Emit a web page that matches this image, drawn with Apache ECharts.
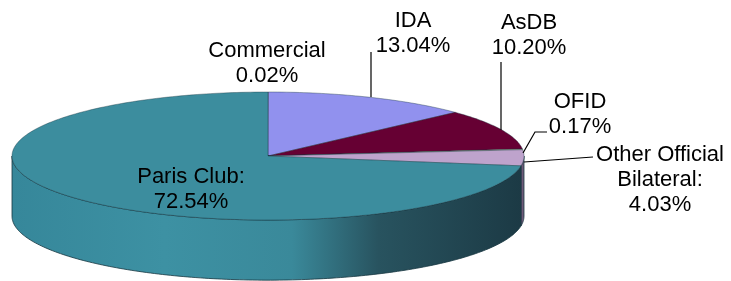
<!DOCTYPE html>
<html>
<head>
<meta charset="utf-8">
<script src="https://cdn.jsdelivr.net/npm/echarts@6/dist/echarts.min.js"></script>
<style>
html, body { margin: 0; padding: 0; background: #fff; }
#main { width: 731px; height: 281px; }
</style>
</head>
<body>
<div id="main"></div>
<script>
// shares of external debt by creditor (%), clockwise from 12 o'clock
var categories = ['Commercial', 'IDA', 'AsDB', 'OFID', 'Other Official Bilateral', 'Paris Club'];
var shares = [0.02, 13.04, 10.20, 0.17, 4.03, 72.54];
var labelText = ['Commercial\n0.02%', 'IDA\n13.04%', 'AsDB\n10.20%', 'OFID\n0.17%',
    'Other Official\nBilateral:\n4.03%', 'Paris Club:\n72.54%'];

var topColors = ['#7e7ed6', '#9191ee', '#660033', '#f2f2c0', '#bea3cc', '#3c8d9e'];
var sideColors = ['#50508a', '#5c5c9a', '#3d001e', '#a0a080', '#6e5a78', null];
var depth = 0.94; // wall height, in units of the vertical radius

var total = shares.reduce(function (a, b) { return a + b; }, 0);
var cum = [];
var run = 0;
shares.forEach(function (v) { cum.push(run); run += v; });

function angles(i) {
    var a0 = 90 - 360 * cum[i] / total;
    var a1 = 90 - 360 * (cum[i] + shares[i]) / total;
    return [a0, a1];
}

var rad = Math.PI / 180;

function arcPts(api, from, to, dz) {
    var pts = [];
    var n = Math.max(2, Math.ceil(Math.abs(from - to)));
    for (var k = 0; k <= n; k++) {
        var a = (from + (to - from) * k / n) * rad;
        pts.push(api.coord([Math.cos(a), Math.sin(a) - dz]));
    }
    return pts;
}

var sideGrad = new echarts.graphic.LinearGradient(0, 0, 1, 0, [
    { offset: 0, color: '#36879a' },
    { offset: 0.3, color: '#3d91a3' },
    { offset: 0.55, color: '#3a899a' },
    { offset: 0.72, color: '#28535f' },
    { offset: 1, color: '#1c3a45' }
]);

function renderSide(params, api) {
    var i = params.dataIndex;
    var a = angles(i);
    var hi = Math.min(a[0], 0), lo = Math.max(a[1], -180);
    if (hi <= lo) return null;
    var top = arcPts(api, hi, lo, 0);
    var bot = arcPts(api, lo, hi, depth);
    return {
        type: 'polygon',
        shape: { points: top.concat(bot) },
        style: { fill: sideColors[i] || sideGrad, stroke: '#173640', lineWidth: 0.8 }
    };
}

function renderTop(params, api) {
    var i = params.dataIndex;
    var a = angles(i);
    var pts = [api.coord([0, 0])].concat(arcPts(api, a[0], a[1], 0));
    return {
        type: 'polygon',
        shape: { points: pts },
        style: { fill: topColors[i], stroke: 'rgba(20,50,60,0.55)', lineWidth: 0.7 }
    };
}

var data = shares.map(function (v, i) { return [i, v]; });

// label blocks and leader lines (pixel layout)
var labelPos = [[267, 63], [413, 33], [529, 35], [580, 114], [660, 180], [191, 189]];
var leaders = [
    null,
    [[371, 52], [371, 97]],
    [[501, 62], [501, 130]],
    [[547, 132], [535, 132], [523, 153]],
    [[593, 157], [524, 162]],
    null
];

var graphics = [];
labelText.forEach(function (t, i) {
    graphics.push({
        type: 'text',
        x: labelPos[i][0],
        y: labelPos[i][1],
        z: 10,
        style: {
            text: t,
            font: '22px "Liberation Sans", Arial, sans-serif',
            textAlign: 'center',
            textVerticalAlign: 'middle',
            lineHeight: 25,
            fill: '#000'
        }
    });
    if (leaders[i]) {
        graphics.push({
            type: 'polyline',
            z: 10,
            shape: { points: leaders[i] },
            style: { stroke: '#000', lineWidth: 1.2, fill: null }
        });
    }
});

var myChart = echarts.init(document.getElementById('main'), null, { renderer: 'canvas' });
var option = {
    animation: false,
    backgroundColor: '#fff',
    grid: { left: 12, top: 92, width: 512, height: 128 },
    xAxis: { type: 'value', min: -1, max: 1, show: false },
    yAxis: { type: 'value', min: -1, max: 1, show: false },
    series: [
        { name: 'side', type: 'custom', renderItem: renderSide, data: data, clip: false, z: 1, silent: true },
        { name: 'top', type: 'custom', renderItem: renderTop, data: data, clip: false, z: 2, silent: true }
    ],
    graphic: graphics
};
myChart.setOption(option);
</script>
</body>
</html>
